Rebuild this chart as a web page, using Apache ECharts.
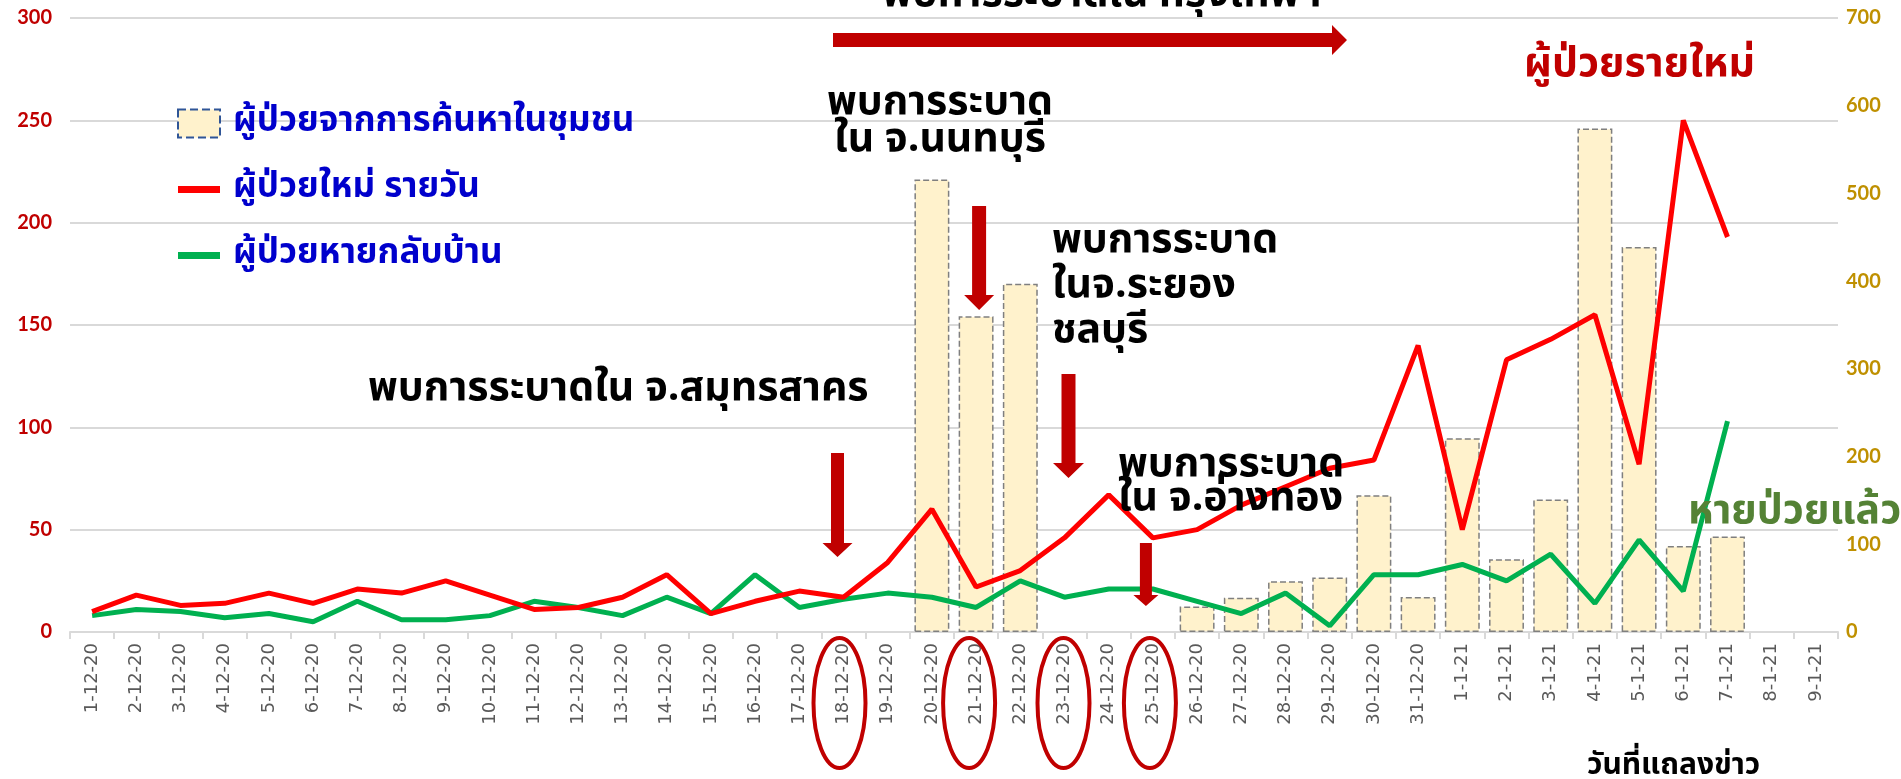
<!DOCTYPE html>
<html>
<head>
<meta charset="utf-8">
<script src="https://cdn.jsdelivr.net/npm/echarts@6/dist/echarts.min.js"></script>
<style>
  html, body { margin: 0; padding: 0; background: #fff; }
  #chart { width: 1901px; height: 779px; }
</style>
</head>
<body>
<div id="chart"></div>
<script>
const dates = [
  "1-12-20", "2-12-20", "3-12-20", "4-12-20", "5-12-20", "6-12-20", "7-12-20", "8-12-20",
  "9-12-20", "10-12-20", "11-12-20", "12-12-20", "13-12-20", "14-12-20", "15-12-20", "16-12-20",
  "17-12-20", "18-12-20", "19-12-20", "20-12-20", "21-12-20", "22-12-20", "23-12-20", "24-12-20",
  "25-12-20", "26-12-20", "27-12-20", "28-12-20", "29-12-20", "30-12-20", "31-12-20",
  "1-1-21", "2-1-21", "3-1-21", "4-1-21", "5-1-21", "6-1-21", "7-1-21", "8-1-21", "9-1-21"
];

// ผู้ป่วยจากการค้นหาในชุมชน (right axis)
const communityCases = [
  null, null, null, null, null, null, null, null, null, null,
  null, null, null, null, null, null, null, null, null, 516,
  360, 397, null, null, null, 29, 39, 58, 62, 156,
  40, 221, 83, 151, 574, 439, 98, 109, null, null
];

// ผู้ป่วยใหม่ รายวัน (left axis)
const newCases = [
  10, 18, 13, 14, 19, 14, 21, 19, 25, 18,
  11, 12, 17, 28, 9, 15, 20, 17, 34, 60,
  22, 30, 46, 67, 46, 50, 62, 71, 80, 84,
  140, 50, 133, 143, 155, 82, 250, 193, null, null
];

// ผู้ป่วยหายกลับบ้าน (left axis)
const recovered = [
  8, 11, 10, 7, 9, 5, 15, 6, 6, 8,
  15, 12, 8, 17, 9, 28, 12, 16, 19, 17,
  12, 25, 17, 21, 21, 15, 9, 19, 3, 28,
  28, 33, 25, 38, 14, 45, 20, 103, null, null
];

const leftTicks = [0, 50, 100, 150, 200, 250, 300];
const rightTicks = [0, 100, 200, 300, 400, 500, 600, 700];

const thaiFont = "'Noto Sans Thai', Tahoma, 'DejaVu Sans', sans-serif";
const darkRed = "#C00000";
const lineIcon = "path://M0,0H6V1H0Z";

let chart = echarts.init(document.getElementById("chart"));

const option = {
  animation: false,
  grid: { left: 70, right: 63, top: 18, bottom: 147 },
  legend: {
    orient: "vertical",
    left: 172,
    top: 98,
    itemWidth: 42,
    itemHeight: 28,
    itemGap: 25,
    symbolKeepAspect: true,
    textStyle: {
      color: "#0000CC",
      fontSize: 35,
      fontWeight: "bold",
      fontFamily: thaiFont,
      lineHeight: 41,
      padding: [0, 0, 0, 8],
    },
    data: [
      {
        name: "ผู้ป่วยจากการค้นหาในชุมชน",
        icon: "rect",
        itemStyle: { color: "#FFF2CC", borderColor: "#2F5597", borderWidth: 2, borderType: "dashed" },
      },
      { name: "ผู้ป่วยใหม่ รายวัน", icon: lineIcon, itemStyle: { color: "#FF0000" } },
      { name: "ผู้ป่วยหายกลับบ้าน", icon: lineIcon, itemStyle: { color: "#00B050" } },
    ],
  },
  xAxis: {
    type: "category",
    data: dates,
    boundaryGap: true,
    axisLine: { lineStyle: { color: "#D9D9D9", width: 2 } },
    axisTick: { show: true, interval: 0, length: 7, lineStyle: { color: "#D9D9D9", width: 2 } },
    axisLabel: {
      interval: 0,
      rotate: 90,
      margin: 11,
      color: "#595959",
      fontSize: 18,
      fontFamily: "DejaVu Sans",
    },
  },
  yAxis: [
    {
      type: "value",
      position: "left",
      min: leftTicks[0],
      max: leftTicks[leftTicks.length - 1],
      interval: 50,
      axisLine: { show: false },
      axisTick: { show: false },
      splitLine: { lineStyle: { color: "#D9D9D9", width: 2 } },
      axisLabel: { color: darkRed, fontSize: 20, fontWeight: "bold", fontFamily: "Lato", margin: 18 },
    },
    {
      type: "value",
      position: "right",
      min: rightTicks[0],
      max: rightTicks[rightTicks.length - 1],
      interval: 100,
      axisLine: { show: false },
      axisTick: { show: false },
      splitLine: { show: false },
      axisLabel: { color: "#BF9000", fontSize: 20, fontWeight: "bold", fontFamily: "Lato", margin: 8 },
    },
  ],
  series: [
    {
      name: "ผู้ป่วยจากการค้นหาในชุมชน",
      type: "bar",
      yAxisIndex: 1,
      barCategoryGap: "21%",
      itemStyle: { color: "#FFF2CC", borderColor: "#7F7F7F", borderWidth: 1.5, borderType: "dashed" },
      data: communityCases,
      z: 1,
    },
    {
      name: "ผู้ป่วยใหม่ รายวัน",
      type: "line",
      yAxisIndex: 0,
      symbol: "none",
      color: "#FF0000",
      lineStyle: { width: 5, color: "#FF0000" },
      data: newCases,
      z: 3,
    },
    {
      name: "ผู้ป่วยหายกลับบ้าน",
      type: "line",
      yAxisIndex: 0,
      symbol: "none",
      color: "#00B050",
      lineStyle: { width: 5, color: "#00B050" },
      data: recovered,
      z: 2,
    },
  ],
};

chart.setOption(option);

// annotations: arrows and circles hung on the category positions
function catX(name) {
  return chart.convertToPixel({ xAxisIndex: 0 }, name);
}

function downArrow(x, y0, y1, w, hw, hl) {
  return {
    type: "polygon",
    shape: {
      points: [
        [x - w / 2, y0], [x + w / 2, y0], [x + w / 2, y1 - hl], [x + hw / 2, y1 - hl],
        [x, y1], [x - hw / 2, y1 - hl], [x - w / 2, y1 - hl],
      ],
    },
    style: { fill: darkRed },
    z: 10,
  };
}

function ring(x) {
  return {
    type: "ellipse",
    shape: { cx: x, cy: 703, rx: 26, ry: 65 },
    style: { fill: "none", stroke: darkRed, lineWidth: 4 },
    z: 10,
  };
}

function label(text, x, y, size, color, align, lineHeight) {
  return {
    type: "text",
    z: 20,
    style: {
      text: text,
      x: x,
      y: y,
      fill: color || "#000",
      fontSize: size,
      fontWeight: "bold",
      fontFamily: thaiFont,
      align: align || "left",
      verticalAlign: "middle",
      lineHeight: lineHeight || size * 1.2,
    },
  };
}

const graphics = [
  downArrow(catX("18-12-20") - 6, 453, 557, 13, 30, 14),
  downArrow(catX("21-12-20") + 3, 206, 310, 14, 30, 15),
  downArrow(catX("23-12-20") + 4, 374, 478, 14, 31, 15),
  downArrow(catX("25-12-20") - 7, 543, 606, 12, 25, 11),
  ring(catX("18-12-20") - 4),
  ring(catX("21-12-20") - 7),
  ring(catX("23-12-20") - 1),
  ring(catX("25-12-20") - 3),
  {
    type: "polygon",
    shape: {
      points: [[833, 33], [1332, 33], [1332, 25], [1347, 40], [1332, 55], [1332, 47], [833, 47]],
    },
    style: { fill: darkRed },
    z: 10,
  },
  label("พบการระบาดใน กรุงเทพฯ", 1102, -2, 41, "#000", "center"),
  label("พบการระบาด\nใน จ.นนทบุรี", 940, 124, 41, "#000", "center", 37),
  label("พบการระบาด\nในจ.ระยอง\nชลบุรี", 1052, 289, 41, "#000", "left", 45),
  label("พบการระบาดใน จ.สมุทรสาคร", 368, 392, 41, "#000", "left"),
  label("พบการระบาด\nใน จ.อ่างทอง", 1118, 485, 41, "#000", "left", 34),
  label("ผู้ป่วยรายใหม่", 1524, 68, 41, darkRed, "left"),
  label("หายป่วยแล้ว", 1688, 515, 41, "#548235", "left"),
  label("วันที่แถลงข่าว", 1587, 768, 30, "#000", "left"),
];

chart.setOption({ graphic: graphics });
</script>
</body>
</html>
